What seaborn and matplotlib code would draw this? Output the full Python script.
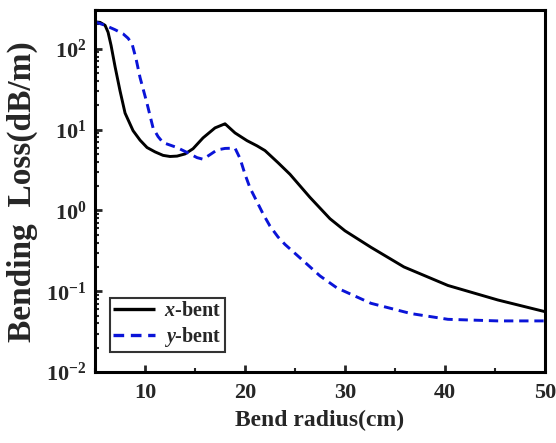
import numpy as np
import pandas as pd
import matplotlib
matplotlib.use("Agg")
import matplotlib.pyplot as plt
import seaborn as sns
from matplotlib.ticker import LogLocator, MultipleLocator, NullFormatter

x_bent_r = [5, 5.5, 6, 6.3, 6.6, 7, 7.5, 8, 8.8, 9.5, 10.2, 11, 11.8, 12.5, 13.2, 14, 14.8, 15.8, 17, 18, 19, 20.2, 21.2, 22, 23.3, 24.5, 26.5, 28.5, 30, 32.6, 35.9, 40.3, 45.3, 50]
x_bent_loss = [215, 212, 195, 160, 110, 60, 30, 16, 9.7, 7.4, 6.0, 5.3, 4.8, 4.65, 4.7, 5.0, 5.8, 7.9, 10.5, 11.8, 9.1, 7.3, 6.3, 5.5, 3.9, 2.8, 1.45, 0.79, 0.56, 0.35, 0.2, 0.118, 0.078, 0.056]

y_bent_r = [5, 6, 7, 7.8, 8.3, 8.7, 9.1, 9.5, 10.2, 10.8, 11.3, 11.8, 13.2, 14.5, 15.2, 15.8, 16.5, 17.2, 18, 19, 19.5, 20, 20.5, 21.8, 22.5, 23.3, 24, 25.8, 27.5, 29.2, 32.6, 36.6, 40.3, 45.3, 50]
y_bent_loss = [215, 195, 172, 153, 135, 115, 75, 44, 21, 10.5, 8.2, 6.9, 6.0, 5.0, 4.5, 4.3, 4.9, 5.6, 5.85, 5.9, 4.4, 2.8, 1.9, 0.91, 0.64, 0.47, 0.38, 0.24, 0.155, 0.11, 0.071, 0.053, 0.045, 0.043, 0.043]

series_names = ["$x$-bent", "$y$-bent"]

df = pd.concat([
    pd.DataFrame({"r": x_bent_r, "loss": x_bent_loss, "series": series_names[0]}),
    pd.DataFrame({"r": y_bent_r, "loss": y_bent_loss, "series": series_names[1]}),
])

sns.set_theme(style="white")
plt.rcParams["font.family"] = ["Liberation Serif", "DejaVu Serif"]
plt.rcParams["font.weight"] = "bold"
plt.rcParams["mathtext.fontset"] = "custom"
plt.rcParams["mathtext.rm"] = "Liberation Serif:bold"
plt.rcParams["mathtext.it"] = "Liberation Serif:italic:bold"
plt.rcParams["mathtext.bf"] = "Liberation Serif:bold"

fig = plt.figure(figsize=(5.56, 4.43), dpi=100)
ax = fig.add_axes([0.171, 0.160, 0.809, 0.817])

sns.lineplot(data=df, x="r", y="loss", hue="series", style="series",
             palette=["black", "#0a14d8"], dashes=[(1, 0), (3.2, 2.0)],
             linewidth=2.1, ax=ax, sort=False)

ax.set_yscale("log")
ax.set_xlim(5, 50)
ax.set_ylim(0.01, 300)

ax.xaxis.set_major_locator(MultipleLocator(10))
ax.xaxis.set_minor_locator(MultipleLocator(5))
ax.yaxis.set_major_locator(LogLocator(base=10, numticks=10))
ax.yaxis.set_minor_locator(LogLocator(base=10, subs=np.arange(2, 10), numticks=20))
ax.yaxis.set_minor_formatter(NullFormatter())

ax.tick_params(axis="both", which="major", direction="in", length=5, width=2,
               labelsize=16, top=False, right=False, bottom=True, left=True, pad=6)
ax.tick_params(axis="x", which="major", pad=8)
ax.tick_params(axis="both", which="minor", direction="in", length=3, width=1.5,
               top=False, right=False, bottom=True, left=True)
for lab in ax.get_xticklabels() + ax.get_yticklabels():
    lab.set_fontweight("bold")

for s in ax.spines.values():
    s.set_linewidth(2.2)
    s.set_color("black")

ax.set_xlabel("Bend radius(cm)", fontsize=17, fontweight="bold", labelpad=5)
ax.set_ylabel("Bending  Loss(dB/m)", fontsize=24, fontweight="bold", labelpad=6)

leg = ax.legend(loc="lower left", bbox_to_anchor=(0.033, 0.055), frameon=True,
                fancybox=False, edgecolor="black", fontsize=14.5,
                handlelength=2.1, handletextpad=0.45, borderpad=0.15,
                labelspacing=0.2, borderaxespad=0)
leg.get_frame().set_linewidth(1.5)
for t in leg.get_texts():
    t.set_fontweight("bold")
for l in leg.get_lines():
    l.set_linewidth(2.4)

fig.savefig("out.png", dpi=100)
